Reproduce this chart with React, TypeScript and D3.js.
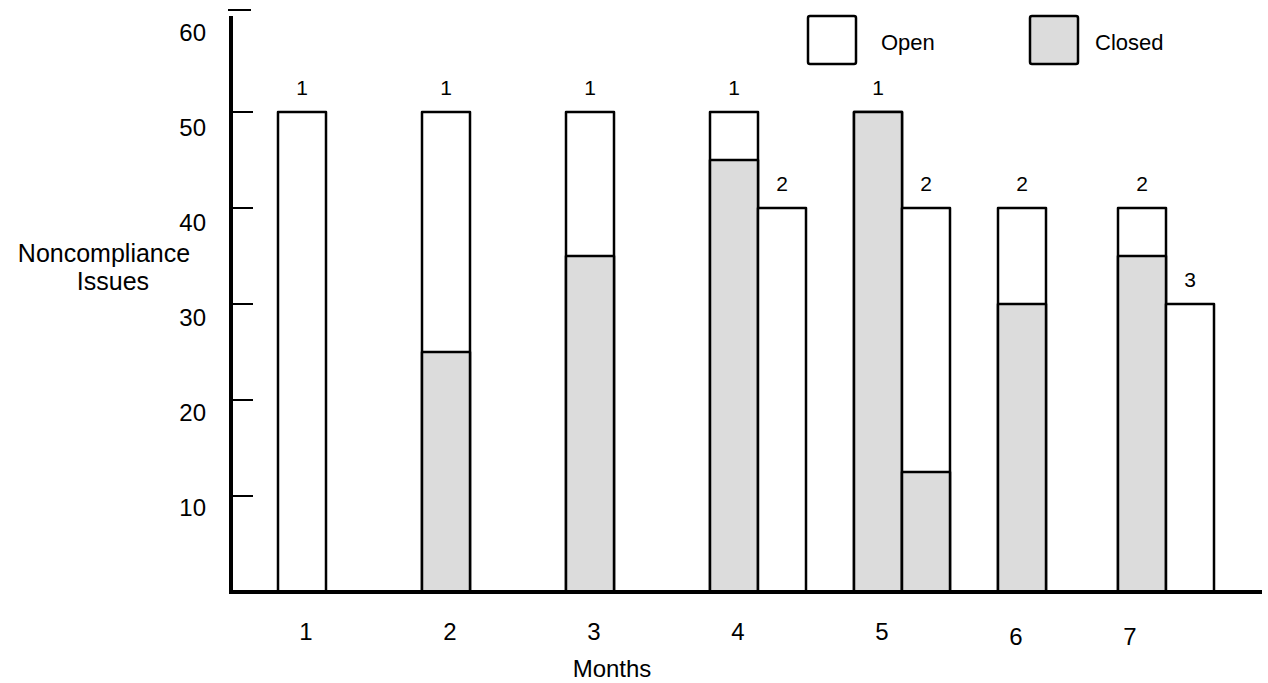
import React from 'react';
import * as d3 from 'd3';

// ---- data ----
const months = ['1', '2', '3', '4', '5', '6', '7'];
// first bar of each month
const firstClosed = [0, 25, 35, 45, 50, 30, 35];
const firstTotal = [50, 50, 50, 50, 50, 40, 40];
const firstLabel = ['1', '1', '1', '1', '1', '2', '2'];
// second bar (only some months)
const secondMonths = ['4', '5', '7'];
const secondClosed = [0, 12.5, 0];
const secondTotal = [40, 40, 30];
const secondLabel = ['2', '2', '3'];
const yTicks = [10, 20, 30, 40, 50, 60];
const legendItems = ['Open', 'Closed'];

const W = 1268;
const H = 683;
const FONT = '"Liberation Sans", Arial, Helvetica, sans-serif';
const GRAY = '#dcdcdc';

export default function App() {
  const y = d3.scaleLinear().domain([0, 60]).range([592, 16]);
  const yLab = d3.scaleLinear().domain([10, 60]).range([508, 33]);
  const xBase = d3.scaleLinear().domain([1, 6]).range([278, 998]);
  // month 7 sits closer to month 6 in the original
  const barX = (m: string) => {
    const i = +m;
    return i === 7 ? xBase(i) - 24 : xBase(i);
  };
  const bw = 48;
  const labOff: Record<string, [number, number]> = {
    '6': [-10, 5],
    '7': [-16, 5],
  };

  const rects: JSX.Element[] = [];
  const labels: JSX.Element[] = [];
  const drawBar = (x: number, closed: number, total: number, lab: string, key: string) => {
    rects.push(
      <rect key={key + 'o'} x={x} y={y(total)} width={bw} height={y(0) - y(total)}
        fill="#fff" stroke="#000" strokeWidth={2.5} strokeLinejoin="round" />
    );
    if (closed > 0) {
      rects.push(
        <rect key={key + 'c'} x={x} y={y(closed)} width={bw} height={y(0) - y(closed)}
          fill={GRAY} stroke="#000" strokeWidth={2.5} strokeLinejoin="round" />
      );
    }
    labels.push(
      <text key={key + 't'} x={x + bw / 2} y={y(total) - 24} dy="0.35em" textAnchor="middle" fontSize={21}>
        {lab}
      </text>
    );
  };
  months.forEach((m, i) => drawBar(barX(m), firstClosed[i], firstTotal[i], firstLabel[i], 'f' + m));
  secondMonths.forEach((m, i) => drawBar(barX(m) + bw, secondClosed[i], secondTotal[i], secondLabel[i], 's' + m));

  return (
    <svg width={W} height={H} style={{ position: 'absolute', left: 0, top: 0, background: '#fff' }}
      fontFamily={FONT} fill="#000">
      <rect width={W} height={H} fill="#fff" />
      {rects}
      {labels}
      {/* y axis */}
      <line x1={231} x2={231} y1={y(60)} y2={y(0) + 2} stroke="#000" strokeWidth={4} />
      <line x1={228} x2={251} y1={10} y2={10} stroke="#000" strokeWidth={2} />
      {yTicks.filter((t) => t < 60).map((t) => (
        <line key={t} x1={231} x2={253} y1={y(t)} y2={y(t)} stroke="#000" strokeWidth={2} />
      ))}
      {yTicks.map((t) => (
        <text key={'l' + t} x={206} y={yLab(t)} dy="0.35em" textAnchor="end" fontSize={24}>{t}</text>
      ))}
      {/* x axis */}
      <line x1={229} x2={1262} y1={y(0)} y2={y(0)} stroke="#000" strokeWidth={4} />
      {months.map((m) => {
        const [dx, dy] = labOff[m] || [0, 0];
        return (
          <text key={'x' + m} x={barX(m) + 28 + dx} y={632 + dy} dy="0.35em" textAnchor="middle" fontSize={24}>{m}</text>
        );
      })}
      <text x={612} y={669} dy="0.35em" textAnchor="middle" fontSize={24}>Months</text>
      <text x={104} y={253} dy="0.35em" textAnchor="middle" fontSize={25}>Noncompliance</text>
      <text x={113} y={281} dy="0.35em" textAnchor="middle" fontSize={25}>Issues</text>
      {/* legend */}
      {legendItems.map((name, i) => (
        <g key={name} transform={`translate(${808 + i * 222},16)`}>
          <rect x={0} y={0} width={48} height={48} rx={2} fill={i === 0 ? '#fff' : GRAY} stroke="#000" strokeWidth={2.5} />
          <text x={i === 0 ? 73 : 65} y={26} dy="0.35em" fontSize={22}>{name}</text>
        </g>
      ))}
    </svg>
  );
}
